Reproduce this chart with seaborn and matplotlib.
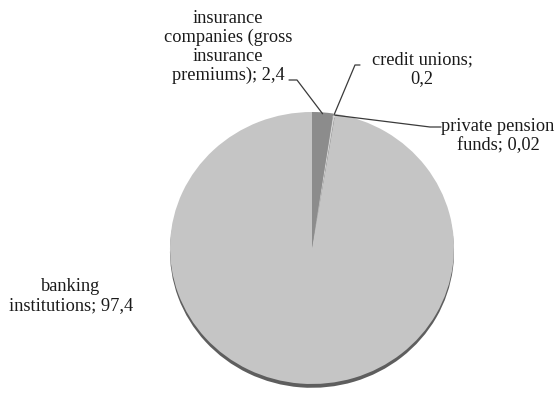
import numpy as np
import matplotlib
matplotlib.use("Agg")
import matplotlib.pyplot as plt
from matplotlib.lines import Line2D
import seaborn as sns

sns.set_theme(style="white")
plt.rcParams['font.family'] = ['Liberation Serif', 'DejaVu Serif']

# ---- data ----
categories = ["insurance companies (gross insurance premiums)", "credit unions",
              "private pension funds", "banking institutions"]
values = [2.4, 0.2, 0.02, 97.4]
value_labels = ["2,4", "0,2", "0,02", "97,4"]
label_texts = ["insurance\ncompanies (gross\ninsurance\npremiums); 2,4",
               "credit unions;\n0,2",
               "private pension\nfunds; 0,02",
               "banking\ninstitutions; 97,4"]

face_colors = ["#8c8c8c", "#d2d2d2", "#c8c8c8", "#c5c5c5"]
shadow_color = "#5e5e5e"

W, H = 558, 394
fig = plt.figure(figsize=(W / 100, H / 100), dpi=100)
ax = fig.add_axes([0, 0, 1, 1])

cx, cy = 312, 248          # pie centre in pixels (from top-left)
rx, ry = 142, 136          # pixel radii

# shadow pie (drawn slightly lower)
ax.pie(values, startangle=90, counterclock=False, colors=[shadow_color] * len(values),
       center=(0, -0.028), wedgeprops=dict(linewidth=0))
wedges, _ = ax.pie(values, startangle=90, counterclock=False, colors=face_colors,
                   wedgeprops=dict(linewidth=0))

ax.set_aspect('auto')
ax.set_xlim(-cx / rx, (W - cx) / rx)
ax.set_ylim(-(H - cy) / ry, cy / ry)
ax.axis('off')

def fpx(x, y):
    return x / W, 1 - y / H

data_to_fig = ax.transData + fig.transFigure.inverted()

def wedge_point(w, r=1.0):
    ang = np.deg2rad((w.theta1 + w.theta2) / 2)
    return data_to_fig.transform((r * np.cos(ang), r * np.sin(ang)))

# text positions (pixels) and leader elbows
text_pos = [(228, 47), (422, 69), (498, 136), (71, 296)]
leaders = [[(289, 80), (297, 80)],
           [(360, 65), (355, 65)],
           [(441, 127), (430, 127)],
           None]

for i, (txt, (tx, ty)) in enumerate(zip(label_texts, text_pos)):
    fig.text(*fpx(tx, ty), txt, ha='center', va='center', multialignment='center',
             fontsize=13.2, color='#1a1a1a', linespacing=1.15)
    if leaders[i] is not None:
        pts = [fpx(*p) for p in leaders[i]] + [tuple(wedge_point(wedges[i], 0.99))]
        xs = [p[0] for p in pts]
        ys = [p[1] for p in pts]
        fig.add_artist(Line2D(xs, ys, transform=fig.transFigure, color='#3a3a3a', lw=0.9))

fig.savefig("out.png", dpi=100)
